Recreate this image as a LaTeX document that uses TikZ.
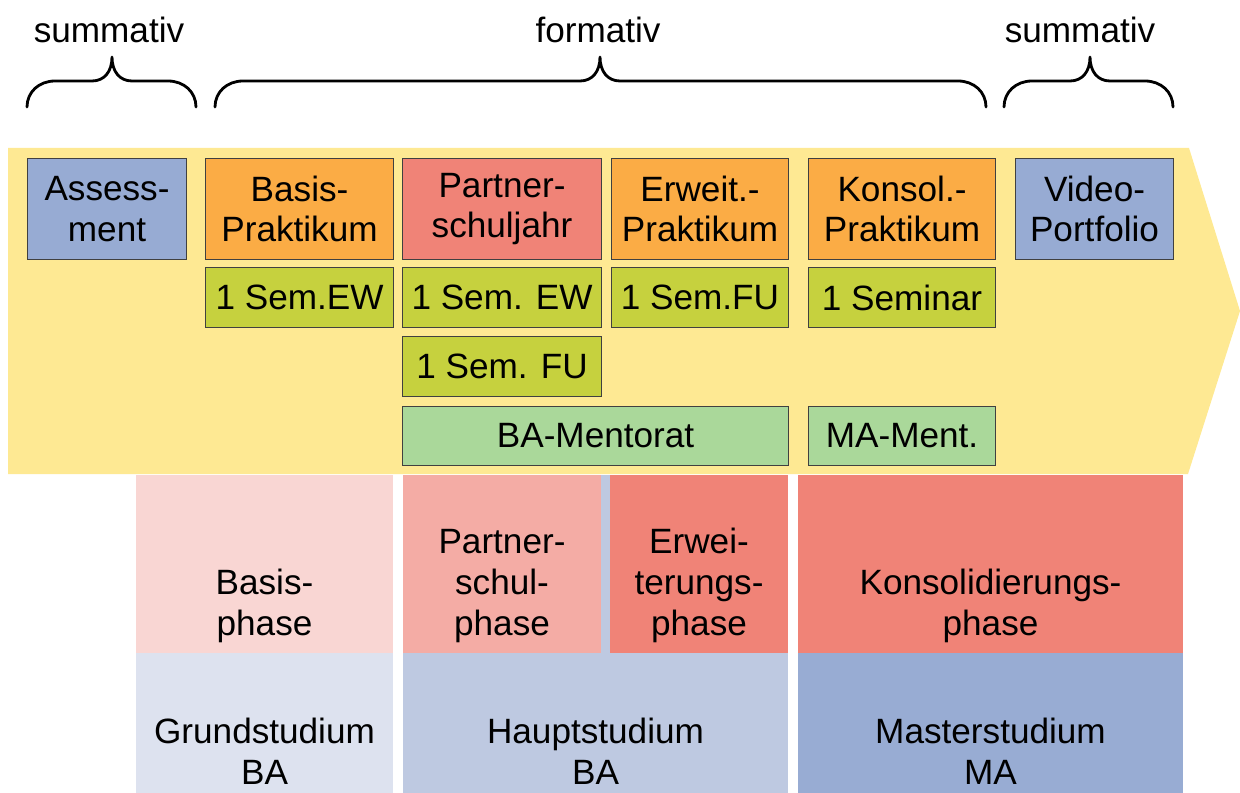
\documentclass[tikz,border=0pt]{standalone}
\usepackage{fontspec}
\setmainfont{Liberation Sans}
\definecolor{bgyellow}{HTML}{FEE993}
\definecolor{assessblue}{HTML}{97ABD3}
\definecolor{praktorange}{HTML}{FBAC45}
\definecolor{salmon}{HTML}{F08377}
\definecolor{semgreen}{HTML}{C6D13E}
\definecolor{mentgreen}{HTML}{AAD89A}
\definecolor{basispink}{HTML}{F9D6D3}
\definecolor{partnerpink}{HTML}{F4ACA5}
\definecolor{grundblue}{HTML}{DDE2EF}
\definecolor{hauptblue}{HTML}{BEC9E1}
\definecolor{masterblue}{HTML}{98ACD3}
%% curly brace: left end, tip, right end
\newcommand{\topbrace}[3]{%
  \draw[curly] (#1,107) .. controls (#1,92) and (#1+12,81) .. (#1+28,81) -- (#2-20,81)
    .. controls (#2-8,81) and (#2,72) .. (#2,57)
    .. controls (#2,72) and (#2+8,81) .. (#2+20,81) -- (#3-28,81)
    .. controls (#3-12,81) and (#3,92) .. (#3,107);}
\begin{document}
\begin{tikzpicture}[x=0.025cm,y=-0.025cm,
    every node/.style={font=\fontsize{25}{29}\selectfont,align=center,inner sep=0pt},
    topbox/.style={draw=black!75,line width=0.7pt,anchor=north west,minimum height=2.525cm},
    sembox/.style={draw=black!75,line width=0.7pt,anchor=north west,minimum height=1.5cm,fill=semgreen},
    mentbox/.style={draw=black!75,line width=0.7pt,anchor=north west,minimum height=1.475cm,fill=mentgreen},
    curly/.style={line width=2pt,line cap=round,line join=round}]
        \useasboundingbox (0,0) rectangle (1240,793);
        %% Labels and braces
        \node[anchor=base] (sumL) at (109,43) {summativ};
        \node[anchor=base] (form) at (598,43) {formativ};
        \node[anchor=base] (sumR) at (1080,43) {summativ};
        \topbrace{27}{112}{196}
        \topbrace{215}{600}{986}
        \topbrace{1004}{1090}{1173}
        %% Arrow
        \fill[bgyellow] (8,148) -- (1189,148) -- (1240,311) -- (1188,474) -- (8,474) -- cycle;
        %% Practica
        \node[topbox,fill=assessblue,minimum width=3.975cm] (asm) at (27,158) {Assess-\\ment};
        \node[topbox,fill=praktorange,minimum width=4.7cm] (bp) at (205,158) {Basis-\\Praktikum};
        \node[topbox,fill=salmon,minimum width=4.975cm] (psj) at (402,158) {Partner-\\schuljahr};
        \node[topbox,fill=praktorange,minimum width=4.425cm] (ep) at (611,158) {Erweit.-\\Praktikum};
        \node[topbox,fill=praktorange,minimum width=4.675cm] (kp) at (808,158) {Konsol.-\\Praktikum};
        \node[topbox,fill=assessblue,minimum width=3.95cm] (vp) at (1015,158) {Video-\\Portfolio};
        %% Seminars
        \node[sembox,minimum width=4.7cm] (s1) at (205,267) {1 Sem.EW};
        \node[sembox,minimum width=4.975cm] (s2) at (402,267) {1 Sem. EW};
        \node[sembox,minimum width=4.425cm] (s3) at (611,267) {1 Sem.FU};
        \node[sembox,minimum width=4.675cm] (s4) at (808,267) {1 Seminar};
        \node[sembox,minimum width=4.975cm] (s5) at (402,336) {1 Sem. FU};
        %% Mentorat
        \node[mentbox,minimum width=9.65cm] (bam) at (402,406) {BA-Mentorat};
        \node[mentbox,minimum width=4.675cm] (mam) at (808,406) {MA-Ment.};
        %% Phases
        \fill[basispink] (136,475) rectangle (393,653);
        \fill[grundblue] (136,653) rectangle (393,793);
        \fill[hauptblue] (403,475) rectangle (788,793);
        \fill[partnerpink] (403,475) rectangle (601,653);
        \fill[salmon] (610,475) rectangle (788,653);
        \fill[salmon] (798,475) rectangle (1183,653);
        \fill[masterblue] (798,653) rectangle (1183,793);
        \node[anchor=south] (bph) at (264.5,643) {Basis-\\phase};
        \node[anchor=south] (pph) at (502,643) {Partner-\\schul-\\phase};
        \node[anchor=south] (eph) at (699,643) {Erwei-\\terungs-\\phase};
        \node[anchor=south] (kph) at (990.5,643) {Konsolidierungs-\\phase};
        %% Studies
        \node[anchor=south] (gst) at (264.5,785) {Grundstudium\\BA};
        \node[anchor=south] (hst) at (595.5,785) {Hauptstudium\\BA};
        \node[anchor=south] (mst) at (990.5,785) {Masterstudium\\MA};
    \end{tikzpicture}
\end{document}
